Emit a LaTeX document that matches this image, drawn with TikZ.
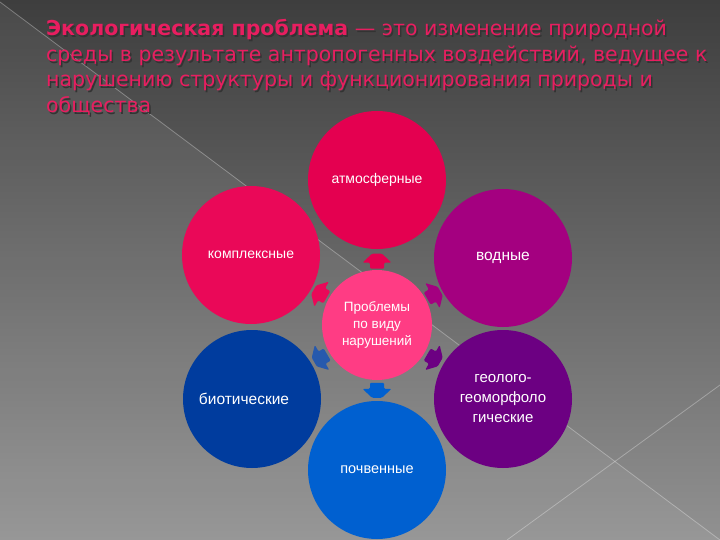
\documentclass[tikz,border=0pt]{standalone}
\usepackage{fontspec}
\setmainfont{Liberation Sans}
\newfontfamily\titlefont{DejaVu Sans}
\usetikzlibrary{calc}
\definecolor{bgtop}{RGB}{62,62,62}
\definecolor{bgbot}{RGB}{145,145,145}
\definecolor{titlepink}{RGB}{232,30,96}
\definecolor{cAtm}{RGB}{228,0,80}
\definecolor{cKom}{RGB}{234,8,88}
\definecolor{cVod}{RGB}{164,0,128}
\definecolor{cGeo}{RGB}{108,0,130}
\definecolor{cBio}{RGB}{0,60,158}
\definecolor{cPoch}{RGB}{0,96,208}
\definecolor{cHub}{RGB}{255,60,132}
\tikzset{
  ttl/.style={anchor=base west, inner sep=0pt, text=titlepink,
    font=\titlefont\fontsize{20.5}{24}\selectfont},
  ttlsh/.style={ttl, text=black!80},
  bub/.style={circle, minimum size=138pt, inner sep=0pt, text=white, align=center,
    font=\fontsize{14}{20}\selectfont},
  hub/.style={circle, minimum size=110pt, inner sep=0pt, text=white, align=center,
    fill=cHub, font=\fontsize{13.5}{17}\selectfont},
  barrow/.pic={\path[pic actions, rounded corners=1.2pt]
    (-7.5,-7) -- (-1.5,-7) -- (-1.5,-14.5) -- (7.5,-5) -- (7.5,5)
    -- (-1.5,14.5) -- (-1.5,7) -- (-7.5,7) -- cycle;},
  bgline/.style={white, opacity=0.3, line width=0.8pt}
}
\begin{document}
\begin{tikzpicture}[x=1pt,y=-1pt]
\useasboundingbox (0,0) rectangle (720,540);
% background
\shade[top color=bgtop, bottom color=bgbot] (0,0) rectangle (720,540);
\fill[white, opacity=0.06] (0,2) -- (720,540) -- (0,540) -- cycle;
\coordinate (d1) at (0,2);
\coordinate (d2) at (720,540);
\coordinate (e1) at (720,385);
\coordinate (e2) at (507,540);
\draw[bgline] (d1) -- (d2);
\draw[bgline] (e1) -- (e2);
% title
\node[ttlsh] (t1s) at (47.5,37.5) {\textbf{Экологическая проблема} — это изменение природной};
\node[ttl] (t1) at (46,36) {\textbf{Экологическая проблема} — это изменение природной};
\node[ttlsh] (t2s) at (47.5,63.5) {среды в результате антропогенных воздействий, ведущее к};
\node[ttl] (t2) at (46,62) {среды в результате антропогенных воздействий, ведущее к};
\node[ttlsh] (t3s) at (47.5,88.5) {нарушению структуры и функционирования природы и};
\node[ttl] (t3) at (46,87) {нарушению структуры и функционирования природы и};
\node[ttlsh] (t4s) at (47.5,114.5) {общества};
\node[ttl] (t4) at (46,113) {общества};
% circles
\node[hub] (c) at (377,325) {Проблемы\\по виду\\нарушений};
\node[bub, fill=cAtm] (n1) at (377,180) {атмосферные};
\node[bub, fill=cKom] (n2) at (251,255) {комплексные};
\node[bub, fill=cVod, font=\fontsize{15.5}{20}\selectfont] (n3) at (503,258) {водные};
\node[bub, fill=cBio, font=\fontsize{15.5}{20}\selectfont] (n4) at (252,399) {биотические\hspace*{16pt}};
\node[bub, fill=cGeo, font=\fontsize{15}{20}\selectfont] (n5) at (503,399) {геолого-\\геоморфоло\\гические};
\node[bub, fill=cPoch, font=\fontsize{14.5}{20}\selectfont] (n6) at (377,470) {почвенные};
% arrows (pointing outward from the hub)
\pic[fill=cAtm, rotate=90] at ($(c)!0.44!(n1)$) {barrow};
\pic[fill=cKom, rotate=150] at ($(c)!0.45!(n2)$) {barrow};
\pic[fill=cVod, rotate=30] at ($(c)!0.45!(n3)$) {barrow};
\pic[fill=cBio!85!white, rotate=210] at ($(c)!0.45!(n4)$) {barrow};
\pic[fill=cGeo, rotate=-30] at ($(c)!0.45!(n5)$) {barrow};
\pic[fill=cPoch, rotate=-90] at ($(c)!0.45!(n6)$) {barrow};
\end{tikzpicture}
\end{document}
